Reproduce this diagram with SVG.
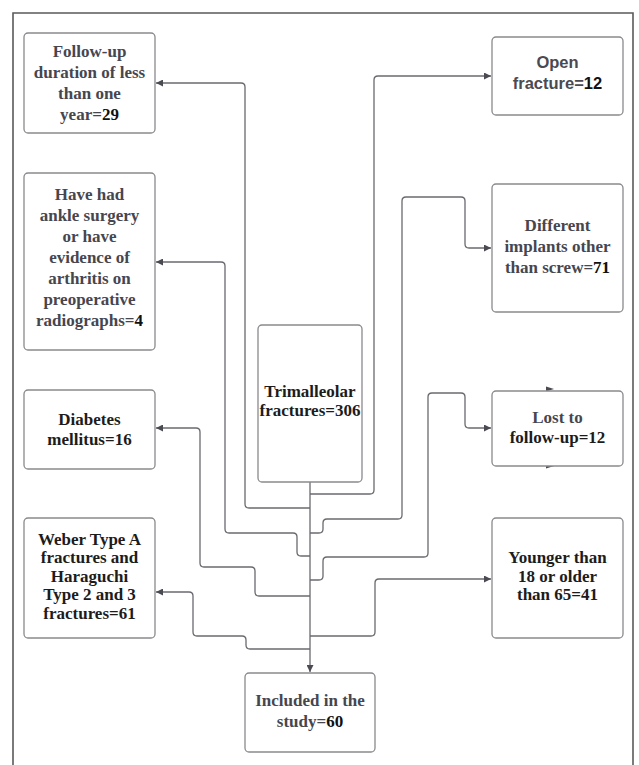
<svg xmlns="http://www.w3.org/2000/svg" width="639" height="765" viewBox="0 0 639 765">
<style>
.box{fill:#fff;stroke:#8a8a8e;stroke-width:1.3}
.t{font-family:"Liberation Serif","Times New Roman",serif;font-weight:bold;font-size:17px;text-anchor:middle;fill:#46464f}
.s{font-family:"Liberation Sans",Arial,sans-serif;font-weight:bold;font-size:16.5px;text-anchor:middle;fill:#4a4a52}
.d{fill:#1c1c1c}
.n{fill:#111}
.c{fill:none;stroke:#6a6a70;stroke-width:1.3;marker-end:url(#ah)}
</style>
<defs>
<marker id="ah" viewBox="0 0 10 10" refX="10" refY="5" markerWidth="9" markerHeight="7" markerUnits="userSpaceOnUse" orient="auto">
<path d="M0,0 L10,5 L0,10 z" fill="#4a4a52"/>
</marker>
</defs>
<rect width="639" height="765" fill="#fff"/>
<path d="M13,765 V13 H633 V765" fill="none" stroke="#5a5a5a" stroke-width="1.6"/>
<g id="connectors">
<path class="c" d="M310,508 H249 Q245,508 245,504 V87 Q245,83 241,83 H156"/>
<path class="c" d="M310,556 H301 Q297,556 297,552 V537 Q297,533 293,533 H229 Q225,533 225,529 V266 Q225,262 221,262 H156"/>
<path class="c" d="M310,596 H259 Q255,596 255,592 V571 Q255,567 251,567 H204 Q200,567 200,563 V432 Q200,428 196,428 H156"/>
<path class="c" d="M310,649 H250 Q246,649 246,645 V640 Q246,636 242,636 H197 Q193,636 193,632 V596 Q193,592 189,592 H156"/>
<path class="c" d="M310,494 H370 Q374,494 374,490 V80 Q374,76 378,76 H491"/>
<path class="c" d="M310,533 H319 Q323,533 323,529 V523 Q323,519 327,519 H398 Q402,519 402,515 V201 Q402,197 406,197 H461 Q465,197 465,201 V244 Q465,248 469,248 H491"/>
<path class="c" d="M310,580 H319 Q323,580 323,576 V561 Q323,557 327,557 H424 Q428,557 428,553 V397 Q428,393 432,393 H461 Q465,393 465,397 V424 Q465,428 469,428 H491"/>
<path class="c" d="M310,636 H371 Q375,636 375,632 V583 Q375,579 379,579 H491"/>
<path class="c" d="M310,482 V672"/>
<path d="M546,386.5 L554,389 L546,391.5 z" fill="#4a4a52"/>
<path d="M546,463.5 L554,466 L546,468.5 z" fill="#4a4a52"/>
</g>
<g id="followup">
<rect class="box" x="24" y="33" width="131" height="100" rx="4"/>
<text class="t" x="89.5" y="57">Follow-up</text>
<text class="t" x="89.5" y="78">duration of less</text>
<text class="t" x="89.5" y="99">than one</text>
<text class="t" x="89.5" y="120">year=<tspan class="n">29</tspan></text>
</g>
<g id="surgery">
<rect class="box" x="24" y="173" width="131" height="177" rx="4"/>
<text class="t" x="89.5" y="200">Have had</text>
<text class="t" x="89.5" y="221">ankle surgery</text>
<text class="t" x="89.5" y="242">or have</text>
<text class="t" x="89.5" y="263">evidence of</text>
<text class="t" x="89.5" y="284">arthritis on</text>
<text class="t" x="89.5" y="305">preoperative</text>
<text class="t" x="89.5" y="326">radiographs=<tspan class="n">4</tspan></text>
</g>
<g id="diabetes">
<rect class="box" x="24" y="390" width="131" height="79" rx="4"/>
<text class="t d" x="89.5" y="425">Diabetes</text>
<text class="t d" x="89.5" y="445">mellitus=16</text>
</g>
<g id="weber">
<rect class="box" x="24" y="518" width="131" height="120" rx="4"/>
<text class="t d" x="89.5" y="545">Weber Type A</text>
<text class="t d" x="89.5" y="563">fractures and</text>
<text class="t d" x="89.5" y="582">Haraguchi</text>
<text class="t d" x="89.5" y="600">Type 2 and 3</text>
<text class="t d" x="89.5" y="619">fractures=61</text>
</g>
<g id="open">
<rect class="box" x="492" y="37" width="131" height="78" rx="4"/>
<text class="s" x="557.5" y="68">Open</text>
<text class="s" x="557.5" y="89">fracture=<tspan class="n">12</tspan></text>
</g>
<g id="implants">
<rect class="box" x="492" y="184" width="131" height="128" rx="4"/>
<text class="t" x="557.5" y="231">Different</text>
<text class="t" x="557.5" y="252">implants other</text>
<text class="t" x="557.5" y="273">than screw=<tspan class="n">71</tspan></text>
</g>
<g id="lost">
<rect class="box" x="492" y="391" width="131" height="75" rx="4"/>
<text class="t" x="557.5" y="423">Lost to</text>
<text class="t d" x="557.5" y="443">follow-up=12</text>
</g>
<g id="younger">
<rect class="box" x="492" y="518" width="131" height="120" rx="4"/>
<text class="t d" x="557.5" y="563">Younger than</text>
<text class="t d" x="557.5" y="582">18 or older</text>
<text class="t d" x="557.5" y="600">than 65=41</text>
</g>
<g id="trimalleolar">
<rect class="box" x="258" y="325" width="104" height="157" rx="4"/>
<text class="t d" x="310" y="397">Trimalleolar</text>
<text class="t d" x="310" y="416">fractures=306</text>
</g>
<g id="included">
<rect class="box" x="245" y="673" width="130" height="79" rx="4"/>
<text class="t" x="310" y="706">Included in the</text>
<text class="t" x="310" y="727">study=<tspan class="n">60</tspan></text>
</g>
</svg>
